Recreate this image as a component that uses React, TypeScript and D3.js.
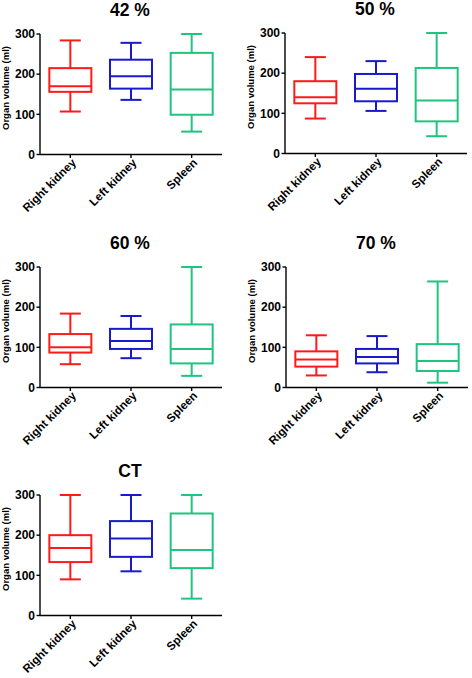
import React from "react";
import * as d3 from "d3";

const categories = ["Right kidney", "Left kidney", "Spleen"];
const colors = ["#ff1a1a", "#1a1acc", "#1fc47f"];
const panelTitles = ["42 %", "50 %", "60 %", "70 %", "CT"];
const yTicks = [0, 100, 200, 300];

// [min, q1, median, q3, max] per category
const stats42 = [
  [107, 156, 170, 215, 284],
  [136, 164, 195, 236, 278],
  [57, 99, 162, 253, 300],
];
const stats50 = [
  [87, 125, 140, 180, 240],
  [106, 130, 161, 198, 230],
  [43, 80, 132, 213, 300],
];
const stats60 = [
  [58, 87, 100, 133, 184],
  [73, 96, 116, 146, 178],
  [29, 60, 96, 157, 300],
];
const stats70 = [
  [30, 52, 70, 90, 130],
  [38, 60, 76, 96, 128],
  [12, 41, 66, 108, 264],
];
const statsCT = [
  [90, 133, 168, 200, 300],
  [110, 146, 192, 235, 300],
  [42, 118, 163, 254, 300],
];
const allStats = [stats42, stats50, stats60, stats70, statsCT];

const layout = [
  { x0: 40, top: 34 },
  { x0: 285, top: 33 },
  { x0: 40, top: 267 },
  { x0: 286, top: 267 },
  { x0: 40, top: 495 },
];

const W = 182;
const H = 120.5;
const font = "'Liberation Sans', Arial, sans-serif";

function Panel({ idx }: { idx: number }) {
  const { x0, top } = layout[idx];
  const stats = allStats[idx];
  const x = d3.scaleBand().domain(categories).range([x0, x0 + W]);
  const y = d3.scaleLinear().domain([0, 300]).range([top + H, top]);
  const bw = 42;
  const cw = 21;
  const bottom = y(0);
  return (
    <g>
      <text
        x={x0 + 90}
        y={top - 18}
        textAnchor="middle"
        fontFamily={font}
        fontWeight="bold"
        fontSize={17.5}
      >
        {panelTitles[idx]}
      </text>
      <text
        transform={`translate(${x0 - 31},${top + 54}) rotate(-90)`}
        textAnchor="middle"
        fontFamily={font}
        fontWeight="bold"
        fontSize={9.5}
      >
        Organ volume (ml)
      </text>
      {/* y axis */}
      <line x1={x0} x2={x0} y1={top} y2={bottom} stroke="#000" strokeWidth={1.4} />
      {yTicks.map((t) => (
        <g key={t}>
          <line x1={x0 - 3.5} x2={x0} y1={y(t)} y2={y(t)} stroke="#000" strokeWidth={1.4} />
          <text
            x={x0 - 5}
            y={y(t)}
            dy="0.36em"
            textAnchor="end"
            fontFamily={font}
            fontWeight="bold"
            fontSize={12}
          >
            {t}
          </text>
        </g>
      ))}
      {/* x axis */}
      <line x1={x0} x2={x0 + W} y1={bottom} y2={bottom} stroke="#000" strokeWidth={1.4} />
      {categories.map((c, i) => {
        const cx = (x(c) as number) + x.bandwidth() / 2;
        const [mn, q1, md, q3, mx] = stats[i];
        const col = colors[i];
        return (
          <g key={c}>
            <line x1={cx} x2={cx} y1={bottom} y2={bottom + 3.5} stroke="#000" strokeWidth={1.4} />
            <text
              transform={`translate(${cx + 3.5},${bottom + 6}) rotate(-45)`}
              textAnchor="end"
              dy="0.35em"
              fontFamily={font}
              fontWeight="bold"
              fontSize={11.6}
            >
              {c}
            </text>
            <g stroke={col} strokeWidth={2} fill="none">
              <line x1={cx} x2={cx} y1={y(mx)} y2={y(q3)} />
              <line x1={cx} x2={cx} y1={y(q1)} y2={y(mn)} />
              <line x1={cx - cw / 2} x2={cx + cw / 2} y1={y(mx)} y2={y(mx)} />
              <line x1={cx - cw / 2} x2={cx + cw / 2} y1={y(mn)} y2={y(mn)} />
              <rect x={cx - bw / 2} y={y(q3)} width={bw} height={y(q1) - y(q3)} />
              <line x1={cx - bw / 2} x2={cx + bw / 2} y1={y(md)} y2={y(md)} />
            </g>
          </g>
        );
      })}
    </g>
  );
}

export default function App() {
  return (
    <svg width={472} height={678} style={{ position: "absolute", left: 0, top: 0, background: "#fff" }}>
      <rect width={472} height={678} fill="#fff" />
      {panelTitles.map((_, i) => (
        <Panel key={i} idx={i} />
      ))}
    </svg>
  );
}
